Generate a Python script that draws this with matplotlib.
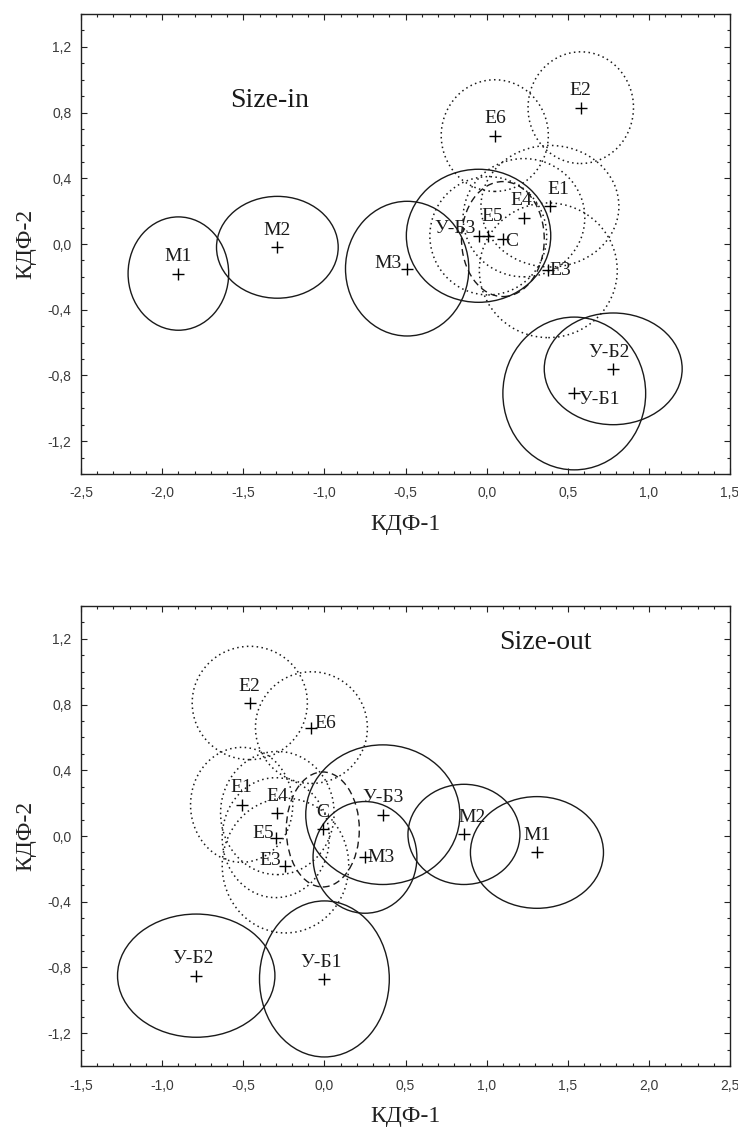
import matplotlib
matplotlib.use("Agg")
import matplotlib.pyplot as plt
from matplotlib.patches import Ellipse
from matplotlib.ticker import MultipleLocator, FuncFormatter

# ---------------- data ----------------
groups = ['M1', 'M2', 'M3', 'У-Б1', 'У-Б2', 'У-Б3', 'C',
          'E1', 'E2', 'E3', 'E4', 'E5', 'E6']

# Size-in (top panel): centroids and ellipse axes (КДФ units)
in_x = [-1.90, -1.29, -0.49, 0.54, 0.78, -0.05, 0.10, 0.39, 0.58, 0.38, 0.23, 0.01, 0.05]
in_y = [-0.18, -0.02, -0.15, -0.91, -0.76, 0.05, 0.03, 0.23, 0.83, -0.16, 0.16, 0.05, 0.66]
in_w = [0.62, 0.75, 0.76, 0.88, 0.85, 0.89, 0.51, 0.85, 0.65, 0.85, 0.75, 0.72, 0.66]
in_h = [0.69, 0.62, 0.82, 0.93, 0.68, 0.81, 0.70, 0.74, 0.68, 0.82, 0.72, 0.72, 0.68]

# Size-out (bottom panel)
out_x = [1.31, 0.86, 0.25, 0.00, -0.79, 0.36, -0.01, -0.51, -0.46, -0.24, -0.29, -0.30, -0.08]
out_y = [-0.10, 0.01, -0.13, -0.87, -0.85, 0.13, 0.04, 0.19, 0.81, -0.18, 0.14, -0.01, 0.66]
out_w = [0.82, 0.69, 0.64, 0.80, 0.97, 0.95, 0.45, 0.63, 0.71, 0.78, 0.70, 0.66, 0.69]
out_h = [0.68, 0.61, 0.68, 0.95, 0.75, 0.85, 0.70, 0.70, 0.69, 0.82, 0.75, 0.73, 0.68]

in_xlim = (-2.5, 1.5)
out_xlim = (-1.5, 2.5)
ylim = (-1.4, 1.4)
x_label = 'КДФ-1'
y_label = 'КДФ-2'
titles = ['Size-in', 'Size-out']

# ---------------- styles ----------------
def group_style(g):
    if g.startswith('E'):
        return (0, (1, 2.2)), 1.1
    if g == 'C':
        return (0, (5, 3)), 1.0
    return '-', 1.0

# label offsets in points (dx, dy, ha, va)
in_lab = {
    'M1': (0, 6, 'center', 'bottom'), 'M2': (0, 6, 'center', 'bottom'),
    'M3': (-4, 4, 'right', 'center'), 'У-Б1': (3, -4, 'left', 'center'),
    'У-Б2': (-3, 6, 'center', 'bottom'), 'У-Б3': (-2, 5, 'right', 'center'),
    'C': (2, -2, 'left', 'center'), 'E1': (6, 6, 'center', 'bottom'),
    'E2': (0, 6, 'center', 'bottom'), 'E3': (1, 0, 'left', 'center'),
    'E4': (-2, 6, 'center', 'bottom'), 'E5': (3, 8, 'center', 'bottom'),
    'E6': (0, 6, 'center', 'bottom'),
}
out_lab = {
    'M1': (0, 6, 'center', 'bottom'), 'M2': (6, 6, 'center', 'bottom'),
    'M3': (2, 0, 'left', 'center'), 'У-Б1': (-2, 6, 'center', 'bottom'),
    'У-Б2': (-2, 6, 'center', 'bottom'), 'У-Б3': (0, 6, 'center', 'bottom'),
    'C': (0, 6, 'center', 'bottom'), 'E1': (0, 6, 'center', 'bottom'),
    'E2': (0, 6, 'center', 'bottom'), 'E3': (-3, 4, 'right', 'center'),
    'E4': (0, 6, 'center', 'bottom'), 'E5': (-1, 3, 'right', 'center'),
    'E6': (2, 3, 'left', 'center'),
}

serif = ['Liberation Serif', 'DejaVu Serif']
sans = ['Liberation Sans', 'DejaVu Sans']

fig = plt.figure(figsize=(7.38, 11.32), dpi=100)
ax_top = fig.add_axes([0.1098, 0.5813, 0.8794, 0.4063])
ax_bot = fig.add_axes([0.1098, 0.0583, 0.8794, 0.4063])

fmt = FuncFormatter(lambda v, p: ('%.1f' % v).replace('.', ','))

def draw(ax, xs, ys, ws, hs, xlim, labpos, title, title_pos):
    for g, x, y, w, h in zip(groups, xs, ys, ws, hs):
        ls, lw = group_style(g)
        ax.add_patch(Ellipse((x, y), w, h, fill=False, edgecolor='#1a1a1a',
                             linestyle=ls, linewidth=lw))
        ax.plot([x], [y], marker='+', color='black', markersize=9, mew=1.0,
                linestyle='none')
        dx, dy, ha, va = labpos[g]
        ax.annotate(g, (x, y), xytext=(dx, dy), textcoords='offset points',
                    ha=ha, va=va, fontsize=14, family=serif, color='#1a1a1a')
    ax.set_xlim(*xlim)
    ax.set_ylim(*ylim)
    ax.xaxis.set_major_locator(MultipleLocator(0.5))
    ax.xaxis.set_minor_locator(MultipleLocator(0.1))
    ax.yaxis.set_major_locator(MultipleLocator(0.4))
    ax.yaxis.set_minor_locator(MultipleLocator(0.1))
    ax.xaxis.set_major_formatter(fmt)
    ax.yaxis.set_major_formatter(fmt)
    ax.tick_params(which='both', direction='in', top=True, right=True,
                   colors='#222222', labelcolor='#3a3a3a', labelsize=10)
    ax.tick_params(which='major', length=4, width=0.8)
    ax.tick_params(which='minor', length=2.5, width=0.8)
    ax.tick_params(axis='x', pad=9)
    ax.tick_params(axis='y', pad=7)
    for lab in ax.get_xticklabels() + ax.get_yticklabels():
        lab.set_family(sans)
    for s in ax.spines.values():
        s.set_linewidth(1.0)
        s.set_color('#222222')
    ax.set_xlabel(x_label, fontsize=17, family=serif, labelpad=10, color='#222222')
    ax.set_ylabel(y_label, fontsize=17, family=serif, labelpad=8, color='#222222')
    ax.text(title_pos[0], title_pos[1], title, transform=ax.transAxes,
            fontsize=20, family=serif, ha='center', va='center', color='#1a1a1a')

draw(ax_top, in_x, in_y, in_w, in_h, in_xlim, in_lab, titles[0], (0.291, 0.813))
draw(ax_bot, out_x, out_y, out_w, out_h, out_xlim, out_lab, titles[1], (0.715, 0.92))

fig.savefig('out.png', dpi=100)
